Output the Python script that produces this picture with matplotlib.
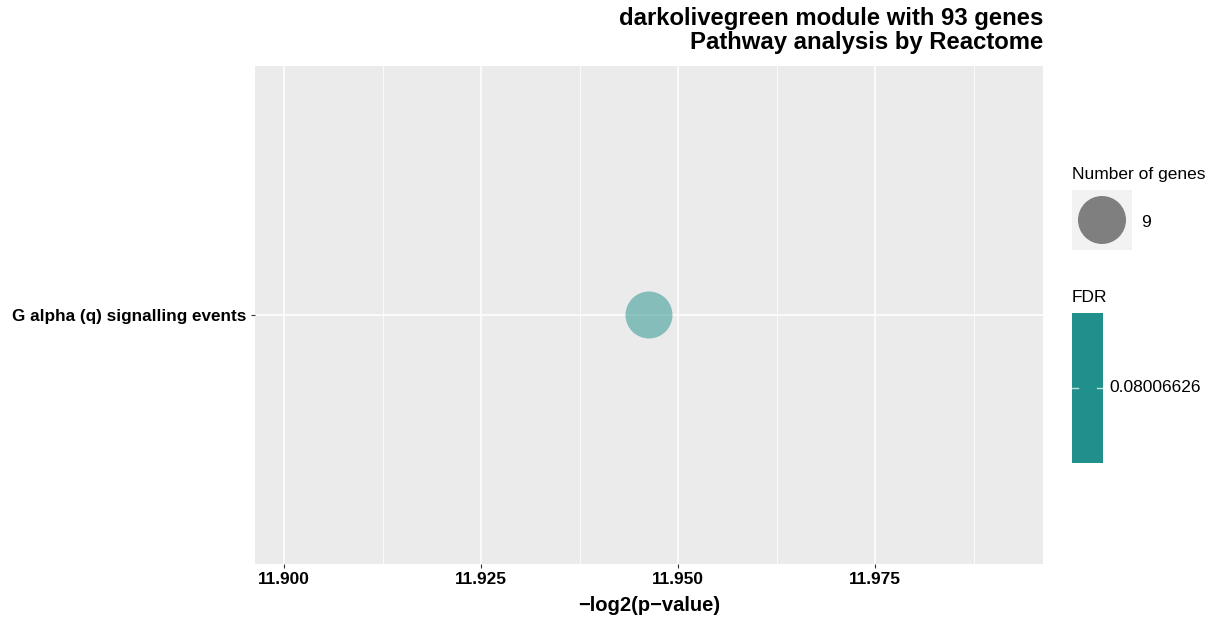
import numpy as np
import matplotlib.pyplot as plt
from matplotlib.patches import Rectangle, Circle

plt.rcParams['font.family'] = ['Liberation Sans', 'DejaVu Sans']

# data
pathways = ['G alpha (q) signalling events']
neglog2p = [11.9463]
n_genes = [9]
fdr = [0.08006626]
xticks = [11.900, 11.925, 11.950, 11.975]
xminor = [11.9125, 11.9375, 11.9625, 11.9875]

W, H = 1214, 617
fig = plt.figure(figsize=(W / 100, H / 100), dpi=100)
ax = fig.add_axes([255 / W, 1 - 564 / H, (1043 - 255) / W, (564 - 66) / H])
ax.set_facecolor('#EBEBEB')

ax.set_xlim(11.8963, 11.9963)
ax.set_ylim(0.4, 1.6)
for x in xticks:
    ax.axvline(x, color='white', lw=1.1, zorder=0)
for x in xminor:
    ax.axvline(x, color='white', lw=0.55, zorder=0)
ax.axhline(1, color='white', lw=1.1, zorder=0)

ax.scatter(neglog2p, [1], s=47 ** 2 * 0.5184, color='#21908C', alpha=0.5,
           edgecolors='none', zorder=3)

for s in ax.spines.values():
    s.set_visible(False)
ax.set_xticks(xticks)
ax.set_xticklabels(['%.3f' % v for v in xticks], fontweight='bold', fontsize=12.4)
ax.set_yticks([1])
ax.set_yticklabels(pathways, fontweight='bold', fontsize=12.3)
ax.tick_params(length=3, color='#333333', labelcolor='black', pad=3)
ax.set_xlabel('\u2212log2(p\u2212value)', fontweight='bold', fontsize=14.5, labelpad=6)

fig.text(1043 / W, 1 - 18 / H, 'darkolivegreen module with 93 genes',
         ha='right', va='center', fontweight='bold', fontsize=17.2)
fig.text(1043 / W, 1 - 43 / H, 'Pathway analysis by Reactome',
         ha='right', va='center', fontweight='bold', fontsize=17.2)

# size legend
fig.text(1072 / W, 1 - 175 / H, 'Number of genes', ha='left', va='center', fontsize=12.5)
ax_leg = fig.add_axes([1072 / W, 1 - 250 / H, 60 / W, 60 / H])
ax_leg.set_xlim(0, 60)
ax_leg.set_ylim(0, 60)
ax_leg.axis('off')
ax_leg.add_patch(Rectangle((0, 0), 60, 60, facecolor='#F2F2F2', edgecolor='none'))
ax_leg.add_patch(Circle((30, 30), 24, facecolor='#7F7F7F', edgecolor='none'))
fig.text(1141 / W, 1 - 222 / H, str(n_genes[0]), ha='left', va='center', fontsize=12.5)

# FDR colour bar
fig.text(1072 / W, 1 - 297 / H, 'FDR', ha='left', va='center', fontsize=12.5)
ax_cb = fig.add_axes([1072 / W, 1 - 463 / H, 31 / W, 150 / H])
ax_cb.set_xlim(0, 31)
ax_cb.set_ylim(0, 150)
ax_cb.axis('off')
ax_cb.add_patch(Rectangle((0, 0), 31, 150, facecolor='#21908C', edgecolor='none'))
ax_cb.plot([0, 6], [75, 75], color='#BFE0DE', lw=1)
ax_cb.plot([25, 31], [75, 75], color='#BFE0DE', lw=1)
fig.text(1109 / W, 1 - 388 / H, '%.8f' % fdr[0], ha='left', va='center', fontsize=12.5)

fig.savefig('out.png', dpi=100)
